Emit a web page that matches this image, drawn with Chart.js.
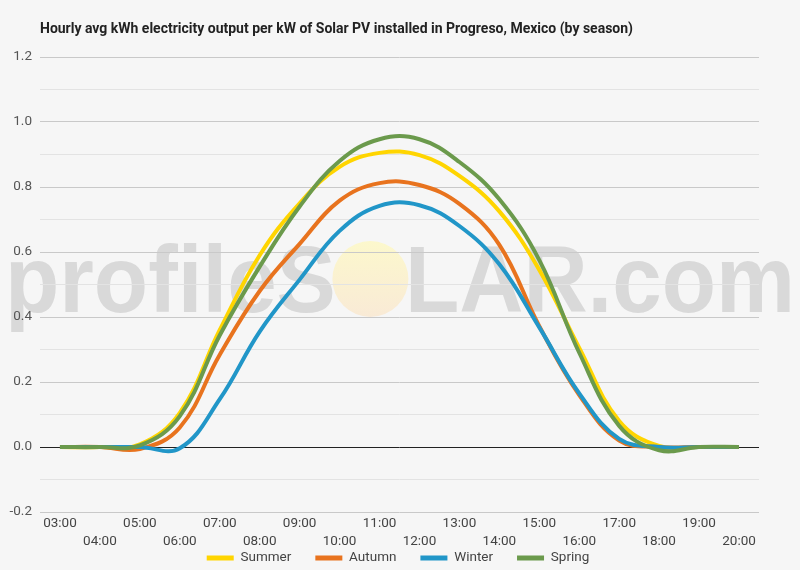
<!DOCTYPE html>
<html><head><meta charset="utf-8">
<script src="https://cdn.jsdelivr.net/npm/chart.js@4"></script>
<style>html,body{margin:0;padding:0;background:#f6f6f6;}</style>
</head><body>
<canvas id="c" width="800" height="570"></canvas>
<script>
const titleText = 'Hourly avg kWh electricity output per kW of Solar PV installed in Progreso, Mexico (by season)';
const hours = ['03:00','04:00','05:00','06:00','07:00','08:00','09:00','10:00','11:00','12:00','13:00','14:00','15:00','16:00','17:00','18:00','19:00','20:00'];
const summer = [0, 0, 0.008, 0.105, 0.36, 0.59, 0.75, 0.862, 0.905, 0.898, 0.834, 0.725, 0.545, 0.305, 0.08, 0.003, 0, 0];
const autumn = [0, 0, -0.006, 0.06, 0.284, 0.48, 0.625, 0.758, 0.812, 0.806, 0.748, 0.622, 0.372, 0.16, 0.02, 0, 0, 0];
const winter = [0, 0, 0, -0.004, 0.147, 0.355, 0.515, 0.665, 0.742, 0.744, 0.68, 0.562, 0.368, 0.165, 0.025, 0, 0, 0];
const spring = [0, 0, 0.005, 0.095, 0.344, 0.555, 0.74, 0.88, 0.947, 0.947, 0.877, 0.762, 0.575, 0.29, 0.065, -0.01, 0, 0];
const seriesNames = ['Summer','Autumn','Winter','Spring'];
const seriesColors = ['#FFD500','#E8731E','#2196C8','#6B9A4C'];
const yTickLabels = ['-0.2','0.0','0.2','0.4','0.6','0.8','1.0','1.2'];

const bgPlugin = {
  id: 'bgwm',
  beforeDraw(chart) {
    const ctx = chart.ctx;
    ctx.save();
    ctx.fillStyle = '#f6f6f6';
    ctx.fillRect(0, 0, chart.width, chart.height);
    ctx.font = 'bold 95px "Liberation Sans", Arial, sans-serif';
    ctx.textBaseline = 'alphabetic';
    const full = ctx.measureText('profileSOLAR.com').width;
    const sx = 790 / full;
    ctx.translate(5, 312);
    ctx.scale(sx, 1);
    ctx.fillStyle = '#d9d9d9';
    const w1 = ctx.measureText('profileS').width;
    const wO = ctx.measureText('O').width;
    ctx.fillText('profileS', 0, 0);
    ctx.fillText('LAR.com', w1 + wO, 0);
    ctx.restore();
    ctx.save();
    const cx = 5 + (w1 + wO / 2) * sx, cy = 279, r = 38;
    const g = ctx.createLinearGradient(0, cy - r, 0, cy + r);
    g.addColorStop(0, '#fcf8cc');
    g.addColorStop(1, '#f9ead6');
    ctx.fillStyle = g;
    ctx.beginPath(); ctx.arc(cx, cy, r, 0, Math.PI * 2); ctx.fill();
    ctx.restore();
  },
  afterDraw(chart) {
    const ctx = chart.ctx;
    ctx.save();
    ctx.font = 'bold 14px Roboto';
    ctx.fillStyle = '#222';
    ctx.textBaseline = 'alphabetic';
    const w = ctx.measureText(titleText).width;
    ctx.translate(40, 33);
    ctx.scale(593 / w, 1);
    ctx.fillText(titleText, 0, 0);
    ctx.restore();
    ctx.save();
    ctx.font = '13.5px Roboto';
    ctx.textBaseline = 'middle';
    const boxW = 27, boxH = 5, gap = 6.75, pad = 24, ly = 558;
    const ds = chart.data.datasets;
    const widths = ds.map(d => boxW + gap + ctx.measureText(d.label).width);
    const total = widths.reduce((a, b) => a + b, 0) + pad * (ds.length - 1);
    let x = (chart.width - total) / 2 - 2;
    ds.forEach((d, i) => {
      ctx.fillStyle = d.borderColor;
      ctx.fillRect(x, ly - boxH / 2, boxW, boxH);
      ctx.fillStyle = '#444';
      ctx.fillText(d.label, x + boxW + gap, ly);
      x += widths[i] + pad;
    });
    ctx.restore();
  }
};

const seriesData = [summer, autumn, winter, spring];
const datasets = seriesNames.map((n, i) => ({
  label: n,
  data: seriesData[i],
  borderColor: seriesColors[i],
  backgroundColor: seriesColors[i],
  borderWidth: 4,
  pointRadius: 0,
  tension: 0.4,
  fill: false,
  order: 4 - i
}));

const xLabels = hours.map((h, i) => i % 2 === 0 ? [h, ''] : ['', h]);

new Chart(document.getElementById('c'), {
  type: 'line',
  data: { labels: xLabels, datasets },
  options: {
    responsive: false,
    animation: false,
    layout: { padding: { top: 57, right: 41, left: 0, bottom: 0 } },
    plugins: { legend: { display: false }, title: { display: false }, tooltip: { enabled: false } },
    scales: {
      x: {
        type: 'category',
        offset: true,
        grid: { display: false, drawTicks: false },
        border: { display: false },
        ticks: {
          autoSkip: false, maxRotation: 0, minRotation: 0, padding: 3,
          color: '#444', font: { family: 'Roboto', size: 13.5, lineHeight: 1.33 }
        },
        afterFit(s) { s.height = 58; }
      },
      y: {
        min: -0.2, max: 1.2,
        grid: {
          drawTicks: false,
          color(c) {
            const v = Math.round(c.tick.value * 10);
            if (v === 0) return '#222';
            return (v % 2 === 0) ? '#c9c9c9' : '#e3e3e3';
          },
          lineWidth: 1
        },
        border: { display: false },
        ticks: {
          stepSize: 0.1, padding: 8, color: '#555',
          font: { family: 'Roboto', size: 13.5 },
          callback(v) {
            const k = Math.round(v * 10);
            if (k % 2 !== 0) return '';
            return yTickLabels[(k + 2) / 2];
          }
        },
        afterFit(s) { s.width = 40; }
      }
    }
  },
  plugins: [bgPlugin]
});
</script>
</body></html>
